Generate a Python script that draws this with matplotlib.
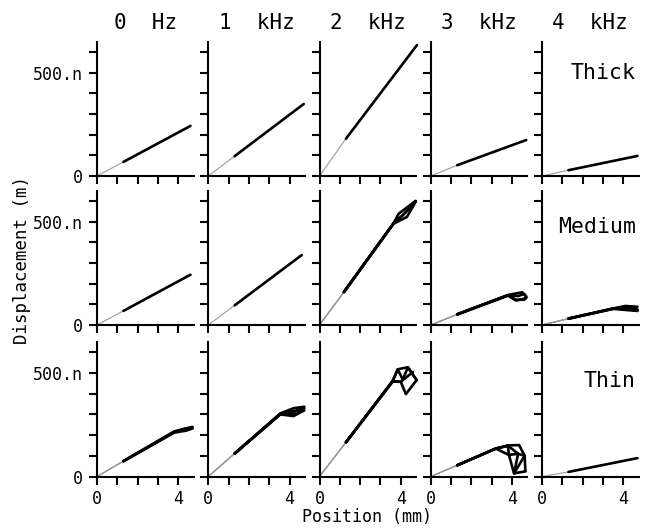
import matplotlib
matplotlib.use("Agg")
import matplotlib.pyplot as plt

# frequencies (columns) and membrane types (rows)
freq_labels = ["0  Hz", "1  kHz", "2  kHz", "3  kHz", "4  kHz"]
row_labels = ["Thick", "Medium", "Thin"]
row_label_y = [500, 475, 462]   # nm, where the row name sits in the last column

# each panel: list of traces, each trace = (positions in mm, displacement in nm)
# first segment of every trace is the faint part near the origin
thick = [
    [([0, 1.3, 4.6], [0, 68, 242])],
    [([0, 1.3, 4.7], [0, 96, 348])],
    [([0, 1.3, 4.8], [0, 180, 633])],
    [([0, 1.3, 4.7], [0, 52, 174])],
    [([0, 1.3, 4.7], [0, 28, 97])],
]

medium = [
    [([0, 1.3, 4.6], [0, 68, 243])],
    [([0, 1.3, 4.6], [0, 95, 338])],
    [([0, 1.2, 3.65, 3.9, 4.73], [0, 160, 493, 538, 600]),
     ([0, 1.2, 3.65, 4.3, 4.73], [0, 158, 490, 522, 595]),
     ([0, 1.2, 3.65, 4.1, 4.73], [0, 159, 492, 530, 598]),
     ([0, 1.2, 3.65, 4.2, 4.73], [0, 159, 492, 540, 597])],
    [([0, 1.3, 3.8, 4.5, 4.7], [0, 52, 145, 158, 138]),
     ([0, 1.3, 3.8, 4.2, 4.7], [0, 51, 142, 118, 130]),
     ([0, 1.3, 3.8, 4.3, 4.6, 4.7], [0, 51, 144, 140, 150, 135]),
     ([0, 1.3, 3.8, 4.2, 4.6, 4.7], [0, 51, 143, 122, 122, 133])],
    [([0, 1.3, 3.5, 4.1, 4.7], [0, 31, 80, 92, 88]),
     ([0, 1.3, 3.5, 4.2, 4.7], [0, 30, 78, 72, 68]),
     ([0, 1.3, 3.5, 4.3, 4.7], [0, 31, 79, 82, 75]),
     ([0, 1.3, 3.5, 4.4, 4.7], [0, 31, 79, 90, 72])],
]

thin = [
    [([0, 1.3, 3.8, 4.7], [0, 75, 218, 240]),
     ([0, 1.3, 3.8, 4.4, 4.7], [0, 73, 212, 222, 232]),
     ([0, 1.3, 3.8, 4.3, 4.7], [0, 74, 215, 230, 236])],
    [([0, 1.3, 3.55, 4.2, 4.73], [0, 112, 305, 330, 337]),
     ([0, 1.3, 3.55, 4.2, 4.73], [0, 110, 300, 292, 320]),
     ([0, 1.3, 3.55, 4.3, 4.73], [0, 111, 303, 318, 330]),
     ([0, 1.3, 3.55, 4.4, 4.6], [0, 111, 302, 305, 335])],
    [([0, 1.3, 3.6, 3.85, 4.35, 4.78], [0, 165, 462, 518, 528, 466]),
     ([0, 1.3, 3.6, 3.85, 4.1, 4.35, 4.78], [0, 165, 460, 518, 468, 528, 466]),
     ([0, 1.3, 3.6, 4.0, 4.25, 4.78], [0, 165, 458, 458, 398, 466]),
     ([0, 1.3, 3.6, 4.0, 4.6], [0, 165, 461, 458, 505])],
    [([0, 1.3, 3.2, 3.8, 4.35, 4.62, 4.66], [0, 54, 135, 150, 152, 100, 25]),
     ([0, 1.3, 3.2, 3.8, 3.85, 4.1, 4.66], [0, 54, 135, 148, 104, 15, 25]),
     ([0, 1.3, 3.2, 3.8, 4.3, 4.62], [0, 54, 135, 149, 110, 100]),
     ([0, 1.3, 3.2, 3.85, 4.3, 4.1, 4.62], [0, 54, 135, 104, 110, 15, 100])],
    [([0, 1.3, 4.7], [0, 22, 89])],
]

rows = [thick, medium, thin]

W, H = 648, 529
fig = plt.figure(figsize=(W / 100, H / 100), dpi=100)
plt.rcParams["font.family"] = ["DejaVu Sans Mono"]

col_left = [97 + 111.25 * i for i in range(5)]
row_bottom = [176, 325, 476.5]
ax_w, ax_h = 96.5, 134.5

for r, panels in enumerate(rows):
    for c, traces in enumerate(panels):
        ax = fig.add_axes([col_left[c] / W, 1 - row_bottom[r] / H, ax_w / W, ax_h / H])
        for xs, ys in traces:
            ax.plot(xs[:2], ys[:2], color="0.6", lw=0.8, clip_on=False)
            ax.plot(xs[1:], ys[1:], color="black", lw=1.9, clip_on=False,
                    solid_joinstyle="round", solid_capstyle="round")
        ax.set_xlim(0, 4.75)
        ax.set_ylim(0, 650)
        for s in ["top", "right"]:
            ax.spines[s].set_visible(False)
        for s in ["left", "bottom"]:
            ax.spines[s].set_linewidth(1.5)
        ax.set_xticks(range(5))
        ax.set_yticks(range(0, 700, 100))
        ax.tick_params(direction="out", length=6, width=1.5, labelsize=12, pad=4)
        if c == 0:
            ax.set_yticklabels(["0", "", "", "", "", "500.n", ""])
        else:
            ax.set_yticklabels([])
        if r == 2:
            ax.set_xticklabels(["0", "", "", "", "4"])
        else:
            ax.set_xticklabels([])
        if r == 0:
            ax.set_title(freq_labels[c], fontsize=15, pad=9)
        if c == 4:
            ax.text(4.62, row_label_y[r], row_labels[r], ha="right", va="center",
                    fontsize=15.5)

fig.text((97 + 638) / 2 / W, 1 - 517 / H, "Position (mm)", ha="center", va="center",
         fontsize=12)
fig.text(22 / W, 1 - 260 / H, "Displacement (m)", ha="center", va="center",
         rotation=90, fontsize=12.5)

fig.savefig("out.png", dpi=100)
